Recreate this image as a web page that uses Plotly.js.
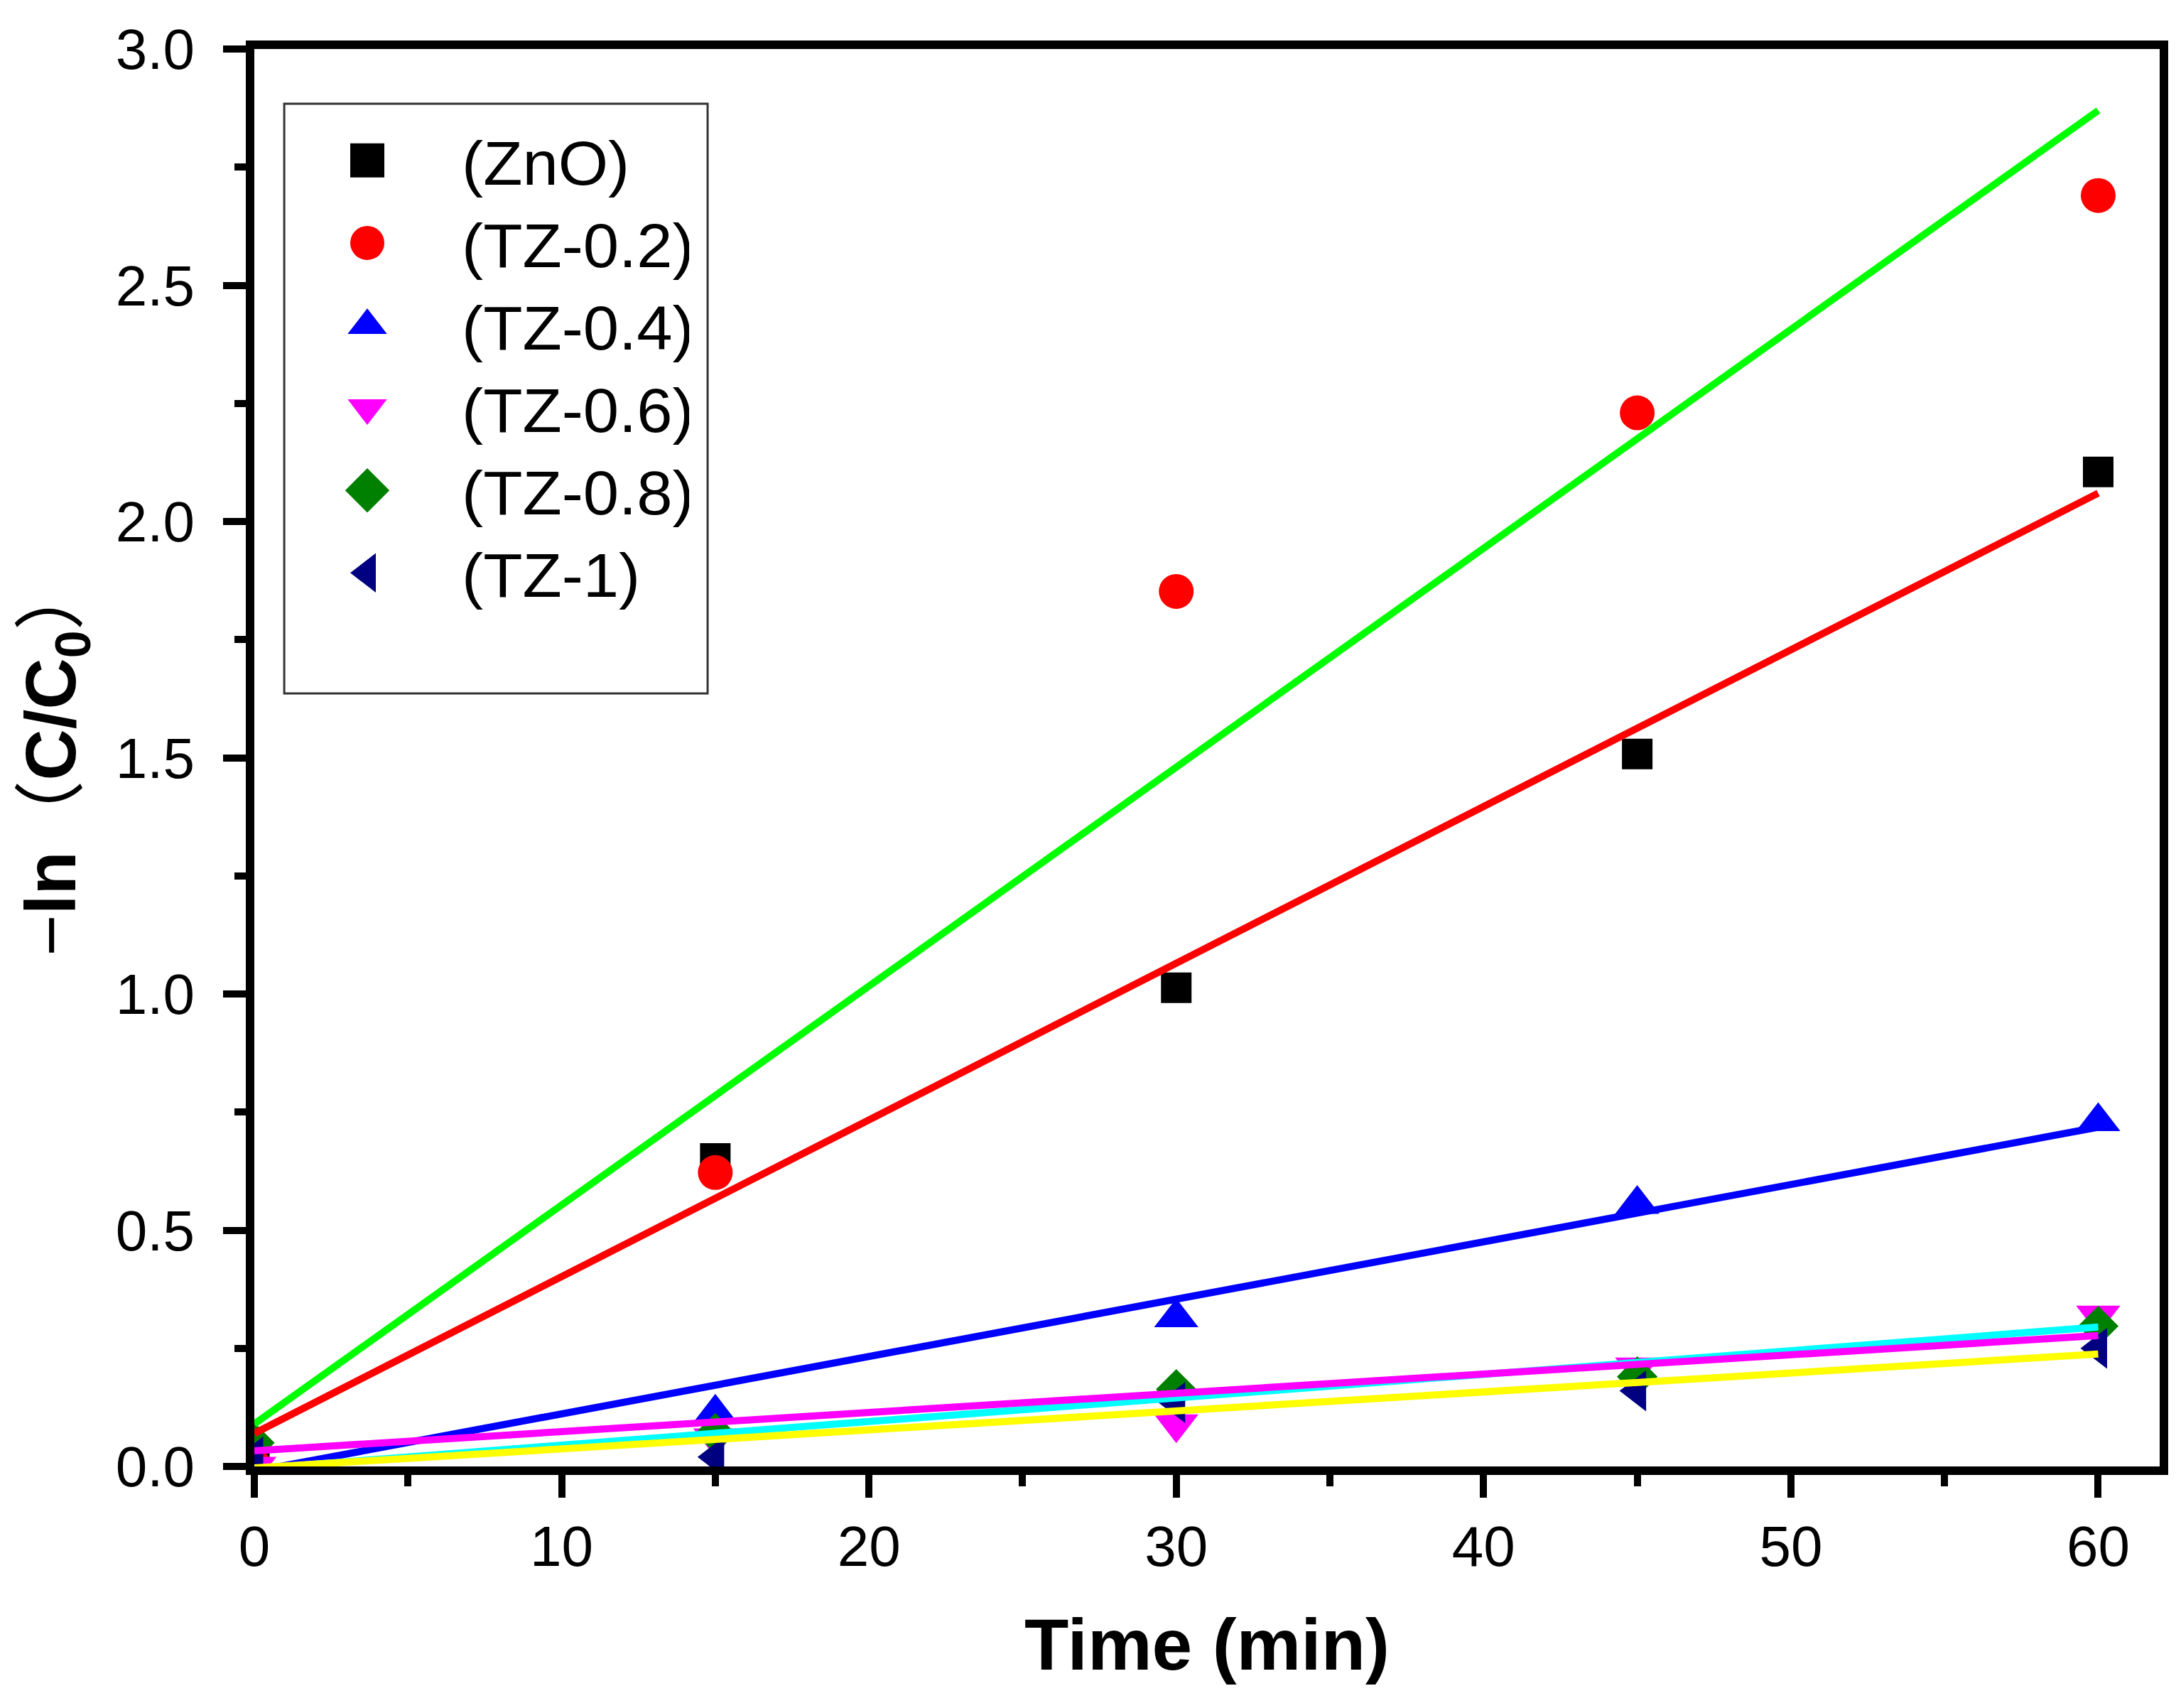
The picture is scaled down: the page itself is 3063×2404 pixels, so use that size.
<!DOCTYPE html>
<html>
<head>
<meta charset="utf-8">
<script src="https://cdn.plot.ly/plotly-3.0.1.min.js"></script>
<style>
  html, body { margin: 0; padding: 0; background: #fff; }
</style>
</head>
<body>
<div id="chart" style="width:3063px;height:2404px;"></div>
<script>
// values
const timeMin = [0, 15, 30, 45, 60]
const seriesNames = ['(ZnO)', '(TZ-0.2)', '(TZ-0.4)', '(TZ-0.6)', '(TZ-0.8)', '(TZ-1)']
const znO = [0, 0.652, 1.013, 1.508, 2.105]
const tz02 = [0, 0.622, 1.852, 2.23, 2.69]
const tz04 = [0, 0.113, 0.315, 0.555, 0.73]
const tz06 = [0, 0.06, 0.09, 0.21, 0.32]
const tz08 = [0.05, 0.07, 0.163, 0.19, 0.297]
const tz1 = [0.02, 0.02, 0.135, 0.16, 0.25]

// linear fits, end points at t = 0 and t = 60
const fitTime = [0, 60]
const fitGreen = [0.09, 2.87]
const fitRed = [0.07, 2.06]
const fitBlue = [-0.01, 0.718]
const fitCyan = [-0.005, 0.295]
const fitYellow = [-0.003, 0.238]
const fitMagenta = [0.033, 0.277]

const xTickVals = [0, 10, 20, 30, 40, 50, 60]
const yTickVals = [0, 0.5, 1.0, 1.5, 2.0, 2.5, 3.0]

let seriesValues = [znO, tz02, tz04, tz06, tz08, tz1]
let markerColors = ['#000000', '#ff0000', '#0000ff', '#ff00ff', '#008000', '#000080']
let markerSymbols = ['square', 'circle', 'triangle-up', 'triangle-down', 'diamond', 'triangle-left']
let markerSizes = [43, 49, 54, 54, 44, 50]

let fits = [
  { y: fitGreen, color: '#00ff00' },
  { y: fitRed, color: '#ff0000' },
  { y: fitBlue, color: '#0000ff' },
  { y: fitCyan, color: '#00ffff' },
  { y: fitYellow, color: '#ffff00' },
  { y: fitMagenta, color: '#ff00ff' }
]

let font = 'Liberation Sans, Arial, sans-serif'

let traces = seriesValues.map((vals, i) => ({
  type: 'scatter',
  mode: 'markers',
  name: seriesNames[i],
  x: timeMin,
  y: vals,
  marker: { color: markerColors[i], symbol: markerSymbols[i], size: markerSizes[i], line: { width: 0 } }
}))

fits.forEach(f => {
  traces.push({
    type: 'scatter',
    mode: 'lines',
    x: fitTime,
    y: f.y,
    showlegend: false,
    line: { color: f.color, width: 10 }
  })
})

let axisBase = {
  showgrid: false,
  zeroline: false,
  showline: true,
  linecolor: '#000',
  linewidth: 12,
  mirror: true,
  ticks: 'outside',
  ticklen: 32,
  tickwidth: 10,
  tickcolor: '#000',
  tickfont: { family: font, size: 80, color: '#000' }
}

let layout = {
  width: 3063,
  height: 2404,
  margin: { l: 358, r: 23, t: 69, b: 340 },
  paper_bgcolor: '#fff',
  plot_bgcolor: '#fff',
  showlegend: true,
  xaxis: Object.assign({}, axisBase, {
    range: [0, 62],
    tickvals: xTickVals,
    ticklabelstandoff: 0,
    minor: { dtick: 5, tick0: 0, ticks: 'outside', ticklen: 16, tickwidth: 10, tickcolor: '#000', showgrid: false },
    title: { text: 'Time (min)', standoff: 64, font: { family: font, size: 102, weight: 'bold', color: '#000' } }
  }),
  yaxis: Object.assign({}, axisBase, {
    range: [0, 3.0],
    tickvals: yTickVals,
    tickformat: '.1f',
    ticklabelstandoff: 24,
    minor: { dtick: 0.25, tick0: 0, ticks: 'outside', ticklen: 16, tickwidth: 10, tickcolor: '#000', showgrid: false },
    title: {
      text: '<span style="font-weight:normal">\u2212</span>ln<span style="font-weight:normal">\uff08</span>C/C<sub>0</sub><span style="font-weight:normal">\uff09</span>',
      standoff: 28,
      font: { family: font + ', Noto Sans CJK SC', size: 100, weight: 'bold', color: '#000' }
    }
  }),
  legend: {
    x: 0.0097,
    y: 0.953,
    xanchor: 'left',
    yanchor: 'top',
    bgcolor: 'rgba(0,0,0,0)',
    borderwidth: 0,
    itemwidth: 256,
    tracegroupgap: 0,
    font: { family: font, size: 87, color: '#000' }
  },
  shapes: [{
    type: 'rect',
    xref: 'paper',
    yref: 'paper',
    x0: 0.0157,
    x1: 0.2379,
    y0: 0.5454,
    y1: 0.9614,
    line: { color: '#333', width: 3 },
    fillcolor: 'rgba(0,0,0,0)',
    layer: 'below'
  }]
}

Plotly.newPlot('chart', traces, layout, { displayModeBar: false }).then(() => {
  // plotly caps legend markers at 16px, blow them up to match the plot markers
  document.querySelectorAll('.legend .scatterpts').forEach(p => {
    let t = p.getAttribute('transform') || ''
    p.setAttribute('transform', t + ' scale(3)')
  })
  // legend text a touch wider, like the original
  document.querySelectorAll('.legend .legendtext').forEach(t => {
    let x = parseFloat(t.getAttribute('x')) || 0
    t.setAttribute('transform', 'translate(' + x + ',0) scale(1.04,1) translate(' + (-x) + ',0)')
  })
})
</script>
</body>
</html>
